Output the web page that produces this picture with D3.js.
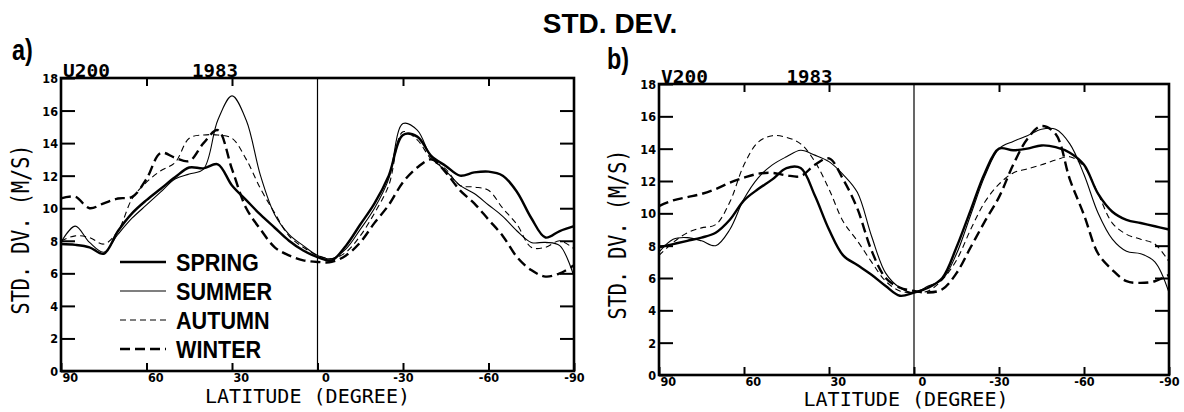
<!DOCTYPE html>
<html>
<head>
<meta charset="utf-8">
<script src="https://cdn.jsdelivr.net/npm/d3@7"></script>
<style>
  body { margin: 0; background: #fff; }
  svg { display: block; }
  .tick text { font-family: "DejaVu Sans Condensed", "DejaVu Sans", sans-serif; font-stretch: condensed; font-weight: bold; font-size: 12.5px; fill: #000; }
  .tick line { stroke: #000; stroke-width: 2; }
</style>
</head>
<body>
<div id="chart"></div>
<script>
// latitudes of the samples, north to south
const lat = [90, 85, 80, 75, 70, 65, 60, 55, 50, 45, 40, 35, 30, 25, 20, 15, 10, 5, 0,
  -5, -10, -15, -20, -25, -30, -35, -40, -45, -50, -55, -60, -65, -70, -75, -80, -85, -90];

// a) U200, std. dev. of zonal wind (m/s)
const u200Spring = [7.8, 7.75, 7.6, 7.2, 8.6, 9.7, 10.5, 11.2, 11.9, 12.5, 12.45, 12.7, 11.4, 10.5, 9.6, 8.8, 8.0, 7.4, 7.0,
  6.8, 7.7, 9.0, 10.3, 12.0, 14.5, 14.4, 13.2, 12.6, 12.0, 12.2, 12.25, 12.0, 11.0, 9.4, 8.2, 8.6, 8.9];
const u200Summer = [7.9, 8.9, 7.9, 7.3, 8.4, 9.4, 10.2, 11.0, 11.8, 12.1, 12.4, 15.4, 16.9, 15.4, 12.0, 9.6, 8.4, 7.7, 7.1,
  6.9, 7.5, 8.7, 10.0, 11.8, 15.2, 14.8, 13.1, 12.3, 11.4, 10.9, 10.2, 9.5, 8.6, 7.9, 7.9, 7.7, 5.8];
const u200Autumn = [8.0, 8.3, 8.2, 7.8, 8.6, 10.6, 11.6, 12.3, 12.8, 14.3, 14.5, 14.5, 14.3, 13.0, 11.2, 9.7, 8.3, 7.6, 7.1,
  6.9, 7.3, 8.3, 9.7, 11.4, 14.7, 14.2, 13.0, 12.4, 11.4, 11.3, 11.1, 10.0, 9.0, 7.6, 7.6, 8.0, 7.5];
const u200Winter = [10.6, 10.7, 10.0, 10.3, 10.6, 10.7, 11.8, 13.4, 13.1, 12.9, 14.0, 14.8, 12.4, 10.0, 8.7, 7.6, 7.1, 6.8, 6.7,
  6.7, 7.1, 7.9, 9.1, 10.2, 11.6, 12.5, 13.0, 12.2, 11.1, 10.3, 9.3, 8.3, 7.0, 6.2, 5.8, 6.0, 6.5];

// b) V200, std. dev. of meridional wind (m/s)
const v200Spring = [7.9, 8.1, 8.3, 8.5, 8.8, 9.6, 10.8, 11.5, 12.1, 12.8, 12.8, 11.1, 9.0, 7.4, 6.8, 6.2, 5.5, 4.9, 5.1,
  5.4, 6.0, 7.9, 10.2, 12.5, 14.0, 13.9, 14.0, 14.2, 14.1, 13.75, 13.0, 11.2, 10.1, 9.6, 9.4, 9.2, 9.0];
const v200Summer = [7.6, 8.4, 8.5, 8.3, 8.0, 9.0, 10.9, 12.2, 13.0, 13.5, 13.9, 13.6, 13.2, 12.4, 11.3, 8.6, 6.3, 5.4, 5.1,
  5.5, 5.9, 7.5, 9.9, 12.3, 14.0, 14.45, 14.8, 15.2, 15.2, 14.3, 12.4, 10.0, 8.4, 7.65, 7.5, 7.0, 5.1];
const v200Autumn = [7.4, 8.2, 8.8, 9.1, 9.3, 10.7, 13.0, 14.4, 14.8, 14.7, 14.3, 13.2, 11.5, 9.5, 8.3, 7.0, 5.8, 5.2, 5.1,
  5.2, 5.9, 7.1, 9.0, 10.7, 11.8, 12.5, 12.75, 13.0, 13.3, 13.5, 12.9, 11.2, 9.4, 8.7, 8.4, 8.1, 7.0];
const v200Winter = [10.45, 10.8, 11.0, 11.2, 11.5, 11.9, 12.2, 12.45, 12.5, 12.35, 12.3, 13.0, 13.4, 12.1, 10.3, 7.7, 6.0, 5.4, 5.2,
  5.1, 5.3, 6.3, 7.9, 9.5, 11.0, 13.0, 14.6, 15.4, 14.9, 12.1, 9.9, 7.5, 6.5, 5.8, 5.7, 5.8, 6.2];

const seasons = ['SPRING', 'SUMMER', 'AUTUMN', 'WINTER'];
const yTicks = [0, 2, 4, 6, 8, 10, 12, 14, 16, 18];
const xTicks = [90, 60, 30, 0, -30, -60, -90];

// line look of each season
const lineStyle = {
  SPRING: { width: 2.4, dash: null },
  SUMMER: { width: 1.1, dash: null },
  AUTUMN: { width: 1.1, dash: '6,4' },
  WINTER: { width: 2.4, dash: '10,5' }
};

const svg = d3.select('#chart').append('svg').attr('width', 1184).attr('height', 412);

const mono = '"DejaVu Sans Mono", monospace';
const sans = '"Liberation Sans", Arial, sans-serif';

svg.append('text')
  .attr('x', 610).attr('y', 33)
  .attr('text-anchor', 'middle')
  .style('font-family', sans).style('font-weight', 'bold').style('font-size', '28px')
  .text('STD. DEV.');

function drawPanel(p) {
  const x = d3.scaleLinear().domain([90, -90]).range([p.left, p.right]);
  const y = d3.scaleLinear().domain([0, 18]).range([p.bottom, p.top]);
  const g = svg.append('g');

  // panel letter and header
  g.append('text')
    .attr('transform', `translate(${p.tagX},${p.tagY}) scale(0.78,1)`)
    .style('font-family', sans).style('font-weight', 'bold').style('font-size', '30px')
    .text(p.tag);
  g.append('text').attr('x', p.left + 2).attr('y', p.top - 1)
    .attr('textLength', 47).attr('lengthAdjust', 'spacingAndGlyphs')
    .style('font-family', mono).style('font-weight', 'bold').style('font-size', '17px')
    .text(p.name);
  g.append('text').attr('x', x(p.yearLat)).attr('y', p.top - 1)
    .attr('textLength', 46).attr('lengthAdjust', 'spacingAndGlyphs')
    .style('font-family', mono).style('font-weight', 'bold').style('font-size', '17px')
    .text('1983');

  // axes, ticks pointing inward
  const left = g.append('g').attr('transform', `translate(${p.left},0)`)
    .call(d3.axisLeft(y).tickValues(yTicks).tickSize(-14).tickPadding(3).tickFormat(d3.format('d')));
  const right = g.append('g').attr('transform', `translate(${p.right},0)`)
    .call(d3.axisRight(y).tickValues(yTicks.slice(1, -1)).tickSize(-14).tickFormat(''));
  const top = g.append('g').attr('transform', `translate(0,${p.top})`)
    .call(d3.axisTop(x).tickValues([60, 30, -30, -60]).tickSize(-8).tickFormat(''));
  const bottom = g.append('g').attr('transform', `translate(0,${p.bottom})`)
    .call(d3.axisBottom(x).tickValues(xTicks).tickSize(-8).tickPadding(2).tickFormat(d => String(d)));
  [left, right, top, bottom].forEach(a => a.select('.domain').remove());
  left.selectAll('.tick text').attr('dy', '0.36em');
  bottom.selectAll('.tick text')
    .attr('text-anchor', d => (d > 0 ? 'start' : 'middle'))
    .attr('dx', d => (d > 0 ? 1 : d === 0 ? 8 : 0));

  // equator line
  g.append('line')
    .attr('x1', x(0)).attr('x2', x(0)).attr('y1', p.top).attr('y2', p.bottom)
    .attr('stroke', '#000').attr('stroke-width', 1.2);

  const line = d3.line()
    .x((d, i) => x(lat[i]))
    .y(d => y(d))
    .curve(d3.curveCatmullRom.alpha(0.5));

  g.selectAll('path.season')
    .data(p.series)
    .enter()
    .append('path')
    .attr('class', 'season')
    .attr('d', d => line(d))
    .attr('fill', 'none')
    .attr('stroke', '#000')
    .attr('stroke-width', (d, i) => lineStyle[seasons[i]].width)
    .attr('stroke-dasharray', (d, i) => lineStyle[seasons[i]].dash)
    .attr('stroke-linejoin', 'round');

  // frame
  g.append('rect')
    .attr('x', p.left).attr('y', p.top)
    .attr('width', p.right - p.left).attr('height', p.bottom - p.top)
    .attr('fill', 'none').attr('stroke', '#000').attr('stroke-width', 2.6);

  // axis titles
  g.append('text')
    .attr('x', (p.left + p.right) / 2 + p.xTitleShift).attr('y', p.bottom + p.xTitleDrop)
    .attr('text-anchor', 'middle')
    .attr('textLength', 205).attr('lengthAdjust', 'spacingAndGlyphs')
    .style('font-family', mono).style('font-size', '20px')
    .text('LATITUDE (DEGREE)');
  g.append('text')
    .attr('transform', `translate(${p.yTitleX},${(p.top + p.bottom) / 2 + 5}) rotate(-90)`)
    .attr('text-anchor', 'middle')
    .attr('textLength', 170).attr('lengthAdjust', 'spacingAndGlyphs')
    .style('font-family', mono).style('font-size', '24px')
    .text('STD. DV. (M/S)');

  return x;
}

drawPanel({
  left: 61, right: 574, top: 78, bottom: 371,
  tag: 'a)', tagX: 12, tagY: 60, name: 'U200', yearLat: 44,
  xTitleShift: -10, xTitleDrop: 32, yTitleX: 29,
  series: [u200Spring, u200Summer, u200Autumn, u200Winter]
});

drawPanel({
  left: 659, right: 1169, top: 84, bottom: 375,
  tag: 'b)', tagX: 607, tagY: 69, name: 'V200', yearLat: 45,
  xTitleShift: -8, xTitleDrop: 31, yTitleX: 626,
  series: [v200Spring, v200Summer, v200Autumn, v200Winter]
});

// legend inside panel a
const legend = svg.append('g').selectAll('g')
  .data(seasons)
  .enter()
  .append('g')
  .attr('transform', (d, i) => `translate(120, ${262 + i * 29})`);

legend.append('line')
  .attr('x1', 0).attr('x2', 46)
  .attr('stroke', '#000')
  .attr('stroke-width', d => lineStyle[d].width)
  .attr('stroke-dasharray', d => lineStyle[d].dash);

legend.append('text')
  .attr('transform', 'translate(56, 8.5) scale(0.9, 1)')
  .style('font-family', sans).style('font-weight', 'bold').style('font-size', '24px')
  .text(d => d);
</script>
</body>
</html>
